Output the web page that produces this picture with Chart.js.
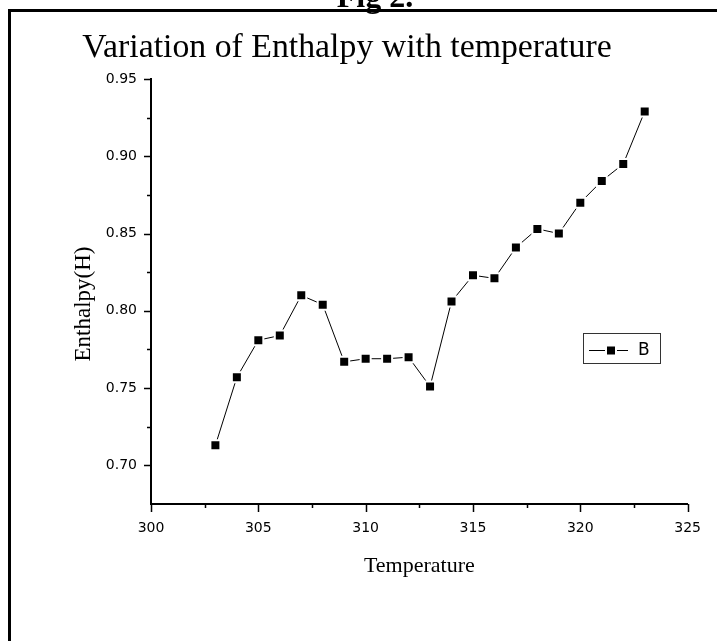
<!DOCTYPE html>
<html>
<head>
<meta charset="utf-8">
<title>Fig 2</title>
<script src="https://cdn.jsdelivr.net/npm/chart.js@4.4.1/dist/chart.umd.min.js"></script>
<style>
  html, body { margin: 0; padding: 0; background: #fff; }
  canvas { display: block; }
</style>
</head>
<body>
<canvas id="enthalpy-chart" width="717" height="641"></canvas>
<script>
// data
const temperatures = [303, 304, 305, 306, 307, 308, 309, 310, 311, 312, 313,
                      314, 315, 316, 317, 318, 319, 320, 321, 322, 323];
const enthalpyB = [0.713, 0.757, 0.781, 0.784, 0.810, 0.804, 0.767, 0.769, 0.769, 0.770, 0.751,
                   0.806, 0.823, 0.821, 0.841, 0.853, 0.850, 0.870, 0.884, 0.895, 0.929];
const xTickValues = [300, 305, 310, 315, 320, 325];
const xMinorTicks = [302.5, 307.5, 312.5, 317.5, 322.5];
const yTickValues = [0.70, 0.75, 0.80, 0.85, 0.90, 0.95];
const yMinorTicks = [0.725, 0.775, 0.825, 0.875, 0.925];
const seriesName = 'B';
const chartTitle = 'Variation of Enthalpy with temperature';
const figLabel = 'Fig 2.';
const xTitle = 'Temperature';
const yTitle = 'Enthalpy(H)';

// frame, heading, y title, tick marks and the little legend box
const decorPlugin = {
    id: 'decor',
    beforeDraw(chart) {
        const ctx = chart.ctx;
        ctx.save();
        ctx.fillStyle = '#fff';
        ctx.fillRect(0, 0, chart.width, chart.height);
        ctx.restore();
    },
    afterDraw(chart) {
        const ctx = chart.ctx;
        const xs = chart.scales.x, ys = chart.scales.y;
        ctx.save();

        ctx.strokeStyle = '#000';
        ctx.lineWidth = 3;
        ctx.strokeRect(9.5, 10.5, 740, 700);

        ctx.fillStyle = '#000';
        ctx.textAlign = 'center';
        ctx.textBaseline = 'alphabetic';
        ctx.font = 'bold 32px "Liberation Serif"';
        ctx.fillText(figLabel, 375, 7);
        ctx.font = '33.8px "Liberation Serif"';
        ctx.fillText(chartTitle, 347, 57);

        // y axis title sits a bit below the middle of the axis in the original
        ctx.save();
        ctx.translate(90, 304);
        ctx.rotate(-Math.PI / 2);
        ctx.font = '23px "Liberation Serif"';
        ctx.fillText(yTitle, 0, 0);
        ctx.restore();

        // tick marks
        ctx.lineWidth = 1.5;
        ctx.beginPath();
        yTickValues.forEach(v => {
            const py = Math.round(ys.getPixelForValue(v)) + 0.5;
            ctx.moveTo(ys.right, py); ctx.lineTo(ys.right - 7, py);
        });
        yMinorTicks.forEach(v => {
            const py = Math.round(ys.getPixelForValue(v)) + 0.5;
            ctx.moveTo(ys.right, py); ctx.lineTo(ys.right - 4, py);
        });
        xTickValues.forEach(v => {
            const px = Math.round(xs.getPixelForValue(v)) + 0.5;
            ctx.moveTo(px, xs.top); ctx.lineTo(px, xs.top + 8);
        });
        xMinorTicks.forEach(v => {
            const px = Math.round(xs.getPixelForValue(v)) + 0.5;
            ctx.moveTo(px, xs.top); ctx.lineTo(px, xs.top + 4);
        });
        ctx.stroke();

        // legend
        ctx.lineWidth = 1;
        ctx.strokeStyle = '#333';
        ctx.strokeRect(583.5, 333.5, 77, 30);
        ctx.strokeStyle = '#000';
        ctx.beginPath();
        ctx.moveTo(589, 350.5); ctx.lineTo(628, 350.5);
        ctx.stroke();
        ctx.fillStyle = '#fff';
        ctx.fillRect(605, 344.5, 12, 12);
        ctx.fillStyle = '#000';
        ctx.fillRect(607, 346.5, 8, 8);
        ctx.textAlign = 'left';
        ctx.textBaseline = 'middle';
        ctx.font = '17px "DejaVu Sans"';
        ctx.fillText(seriesName, 638, 351);

        ctx.restore();
    }
};

const tickFont = { family: 'DejaVu Sans', size: 14 };

new Chart(document.getElementById('enthalpy-chart'), {
    type: 'line',
    data: {
        datasets: [{
            label: seriesName,
            data: temperatures.map((t, i) => ({ x: t, y: enthalpyB[i] })),
            borderColor: '#000',
            borderWidth: 1,
            tension: 0,
            pointStyle: 'rect',
            pointRadius: 7.07,
            pointBackgroundColor: '#000',
            pointBorderColor: '#fff',
            pointBorderWidth: 2
        }]
    },
    options: {
        responsive: false,
        animation: false,
        devicePixelRatio: 1,
        layout: { padding: { top: 79, right: 29, bottom: 0, left: 0 } },
        plugins: { legend: { display: false }, tooltip: { enabled: false }, title: { display: false } },
        scales: {
            x: {
                type: 'linear', min: 300, max: 325,
                afterBuildTicks: s => { s.ticks = xTickValues.map(v => ({ value: v })); },
                afterFit: s => { s.height = 137; },
                grid: { display: false, drawTicks: false },
                border: { display: true, color: '#000', width: 2 },
                ticks: { color: '#000', font: tickFont, padding: 16, maxRotation: 0, autoSkip: false },
                title: { display: true, text: xTitle, color: '#000', font: { family: 'Liberation Serif', size: 22 }, padding: { top: 0, bottom: 62 } }
            },
            y: {
                type: 'linear', min: 0.675, max: 0.95,
                afterBuildTicks: s => { s.ticks = yTickValues.map(v => ({ value: v })); },
                afterFit: s => { s.width = 151; },
                grid: { display: false, drawTicks: false },
                border: { display: true, color: '#000', width: 2 },
                ticks: { color: '#000', font: tickFont, padding: 14, callback: v => v.toFixed(2) },
                title: { display: false }
            }
        }
    },
    plugins: [decorPlugin]
});
</script>
</body>
</html>
